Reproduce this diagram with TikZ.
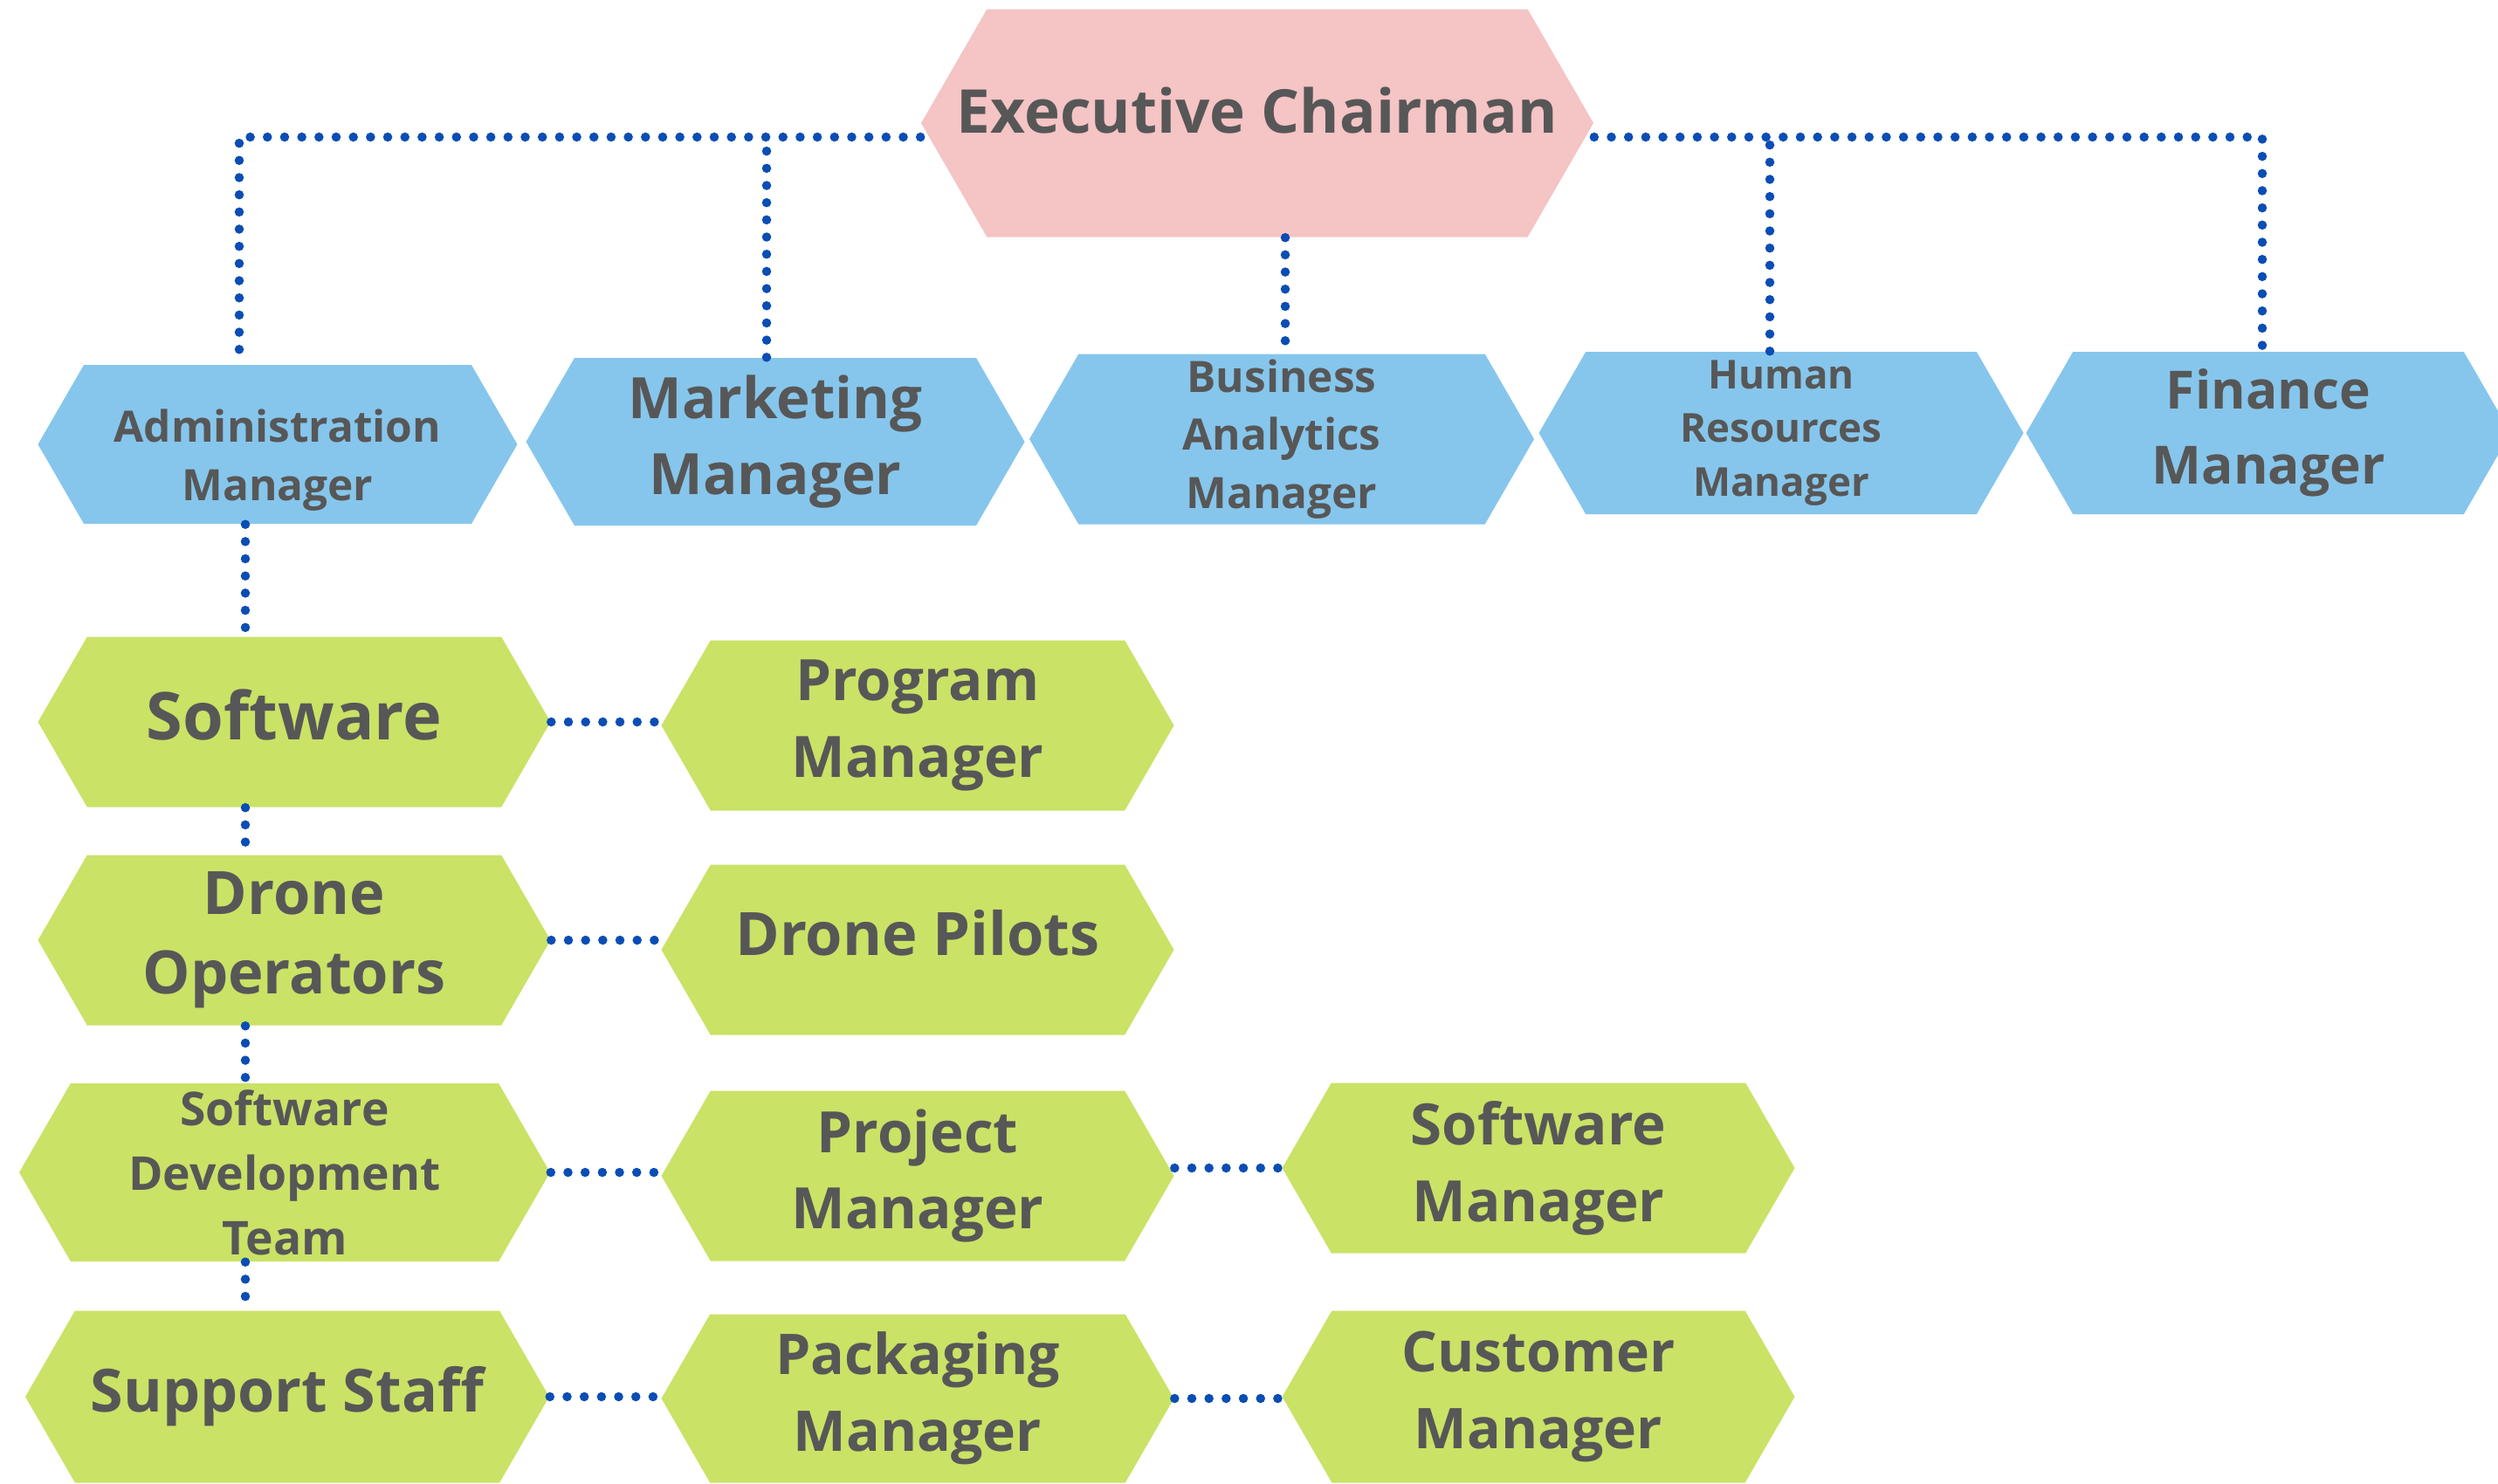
\documentclass[tikz,border=0pt]{standalone}
\usepackage{fontspec}
\setmainfont{Open Sans}
\usetikzlibrary{shapes.symbols}

\definecolor{execpink}{HTML}{F5C4C5}
\definecolor{mgrblue}{HTML}{86C6EC}
\definecolor{teamgreen}{HTML}{CAE266}
\definecolor{dotblue}{HTML}{0A4DB4}
\definecolor{labelgray}{HTML}{575757}
\newcommand{\setfs}[2]{\fontsize{#1}{#2}\selectfont}

\tikzset{
  hexbox/.style={shape=signal, signal to=east and west, signal pointer angle=120,
    inner sep=0pt, align=center, text=labelgray},
  chair/.style={hexbox, fill=execpink, minimum width=7.7cm, minimum height=2.61cm,
    font=\setfs{19.7}{24}\bfseries},
  mgr/.style={hexbox, fill=mgrblue},
  team/.style={hexbox, fill=teamgreen, minimum width=5.87cm, minimum height=1.95cm,
    font=\setfs{18.6}{25}\bfseries},
  link/.style={draw=dotblue, line width=3pt, line cap=round, dash pattern=on 0pt off 5.6pt},
}

\begin{document}
\begin{tikzpicture}
      \useasboundingbox (0,0) rectangle (28.61,-16.99);
      \node[chair, text depth=8.2pt] (exec) at (14.40,-1.41) {\makebox[0pt]{Executive Chairman}};
      \node[mgr, minimum width=5.49cm, minimum height=1.82cm, font=\setfs{14.1}{19}\bfseries, text height=40pt] (admin) at (3.18,-5.09) {Administration\\Manager};
      \node[mgr, minimum width=5.71cm, minimum height=1.92cm, font=\setfs{18.6}{25}\bfseries] (mkt) at (8.88,-5.06) {Marketing\\Manager};
      \node[mgr, minimum width=5.78cm, minimum height=1.95cm, font=\setfs{14.1}{19}\bfseries] (ba) at (14.68,-5.03) {Business\\Analytics\\Manager};
      \node[mgr, minimum width=5.55cm, minimum height=1.86cm, font=\setfs{13}{17.5}\bfseries] (hr) at (20.40,-4.96) {Human\\Resources\\Manager};
      \node[mgr, minimum width=5.55cm, minimum height=1.86cm, font=\setfs{17.2}{24.5}\bfseries] (fin) at (25.98,-4.96) {Finance\\Manager};

      \node[team, font=\setfs{21.5}{26}\bfseries, text depth=5pt] (sw) at (3.37,-8.27) {Software};
      \node[team] (pgm) at (10.51,-8.31) {Program\\Manager};
      \node[team, font=\setfs{19.5}{26}\bfseries] (dops) at (3.37,-10.77) {Drone\\Operators};
      \node[team, font=\setfs{19.5}{26}\bfseries, text depth=11pt] (dpil) at (10.51,-10.88) {Drone Pilots};
      \node[team, minimum width=6.08cm, minimum height=2.04cm, font=\setfs{15.2}{21}\bfseries] (sdt) at (3.26,-13.43) {Software\\Development\\Team};
      \node[team] (proj) at (10.51,-13.47) {Project\\Manager};
      \node[team] (swm) at (17.62,-13.38) {Software\\Manager};
      \node[team, minimum width=6.0cm, minimum height=1.97cm, font=\setfs{19.4}{25}\bfseries] (sup) at (3.29,-16.00) {Support Staff};
      \node[team, minimum height=1.93cm, font=\setfs{18.3}{25}\bfseries] (pack) at (10.51,-16.02) {Packaging\\Manager};
      \node[team, minimum height=1.97cm, font=\setfs{18.3}{25}\bfseries] (cust) at (17.62,-16.00) {Customer\\Manager};

      \coordinate (busL) at ([yshift=-1.6mm]exec.west);
      \coordinate (busR) at ([yshift=-1.6mm]exec.east);
      \coordinate (mktTop) at ([xshift=-1mm]mkt.north);
      \coordinate (hrTop) at ([xshift=-1.3mm]hr.north);
      \coordinate (execFoot) at ([xshift=3.2mm]exec.south);
      \coordinate (spine) at (2.81,0);

      \draw[link] (busL) -| ([xshift=-4.4mm]admin.north);
      \draw[link] (busR) -| ([xshift=-0.7mm]fin.north);
      \draw[link] (mktTop) -- (mktTop |- busL);
      \draw[link] (hrTop) -- (hrTop |- busR);
      \draw[link] (execFoot) -- (execFoot |- ba.north);

      \draw[link] (admin.south -| spine) -- (sw.north -| spine);
      \draw[link] (sw.south -| spine) -- (dops.north -| spine);
      \draw[link] (dops.south -| spine) -- (sdt.north -| spine);
      \draw[link] (sdt.south -| spine) -- (sup.north -| spine);

      \draw[link] (sw.east) -- (sw.east -| pgm.west);
      \draw[link] (dops.east) -- (dops.east -| dpil.west);
      \draw[link] (sdt.east) -- (sdt.east -| proj.west);
      \draw[link] (swm.west -| proj.east) -- (swm.west);
      \draw[link] (sup.east) -- (sup.east -| pack.west);
      \draw[link] (pack.east) -- (pack.east -| cust.west);
    \end{tikzpicture}
\end{document}
